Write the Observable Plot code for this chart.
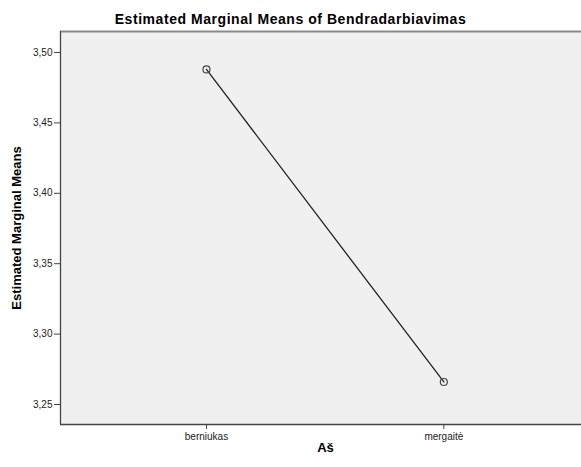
<!DOCTYPE html>
<html><head><meta charset="utf-8">
<script src="https://cdn.jsdelivr.net/npm/d3@7"></script>
<script src="https://cdn.jsdelivr.net/npm/@observablehq/plot@0.6"></script>
<style>
body{margin:0;background:#fff;font-family:"Liberation Sans",Arial,sans-serif;}
#title{width:581px;height:26px;box-sizing:border-box;padding-top:12px;line-height:14px;font-size:14px;font-weight:bold;text-align:center;letter-spacing:0.55px;color:#000;white-space:nowrap;}
#chart svg{display:block;}
</style></head><body>
<div id="title">Estimated Marginal Means of Bendradarbiavimas</div>
<div id="chart"></div>
<script>
const categories = ["berniukas", "mergaitė"];
const means = [3.488, 3.266];
const yTicks = [3.25, 3.30, 3.35, 3.40, 3.45, 3.50];
const xLabel = "Aš";
const yLabel = "Estimated Marginal Means";

const data = categories.map((c, i) => ({i, c, m: means[i]}));
const yDomain = [3.2358, 3.5149];
const xDomain = [-0.615, 1.58];

const plot = Plot.plot({
  width: 581, height: 441,
  marginTop: 5, marginBottom: 43, marginLeft: 60, marginRight: 0,
  style: {fontFamily: "Liberation Sans, Arial, sans-serif", fontSize: "10px", color: "#222", background: "#fff"},
  x: {type: "linear", domain: xDomain},
  y: {domain: yDomain},
  marks: [
    Plot.frame({fill: "#f0f0f0", stroke: null}),
    Plot.ruleY([yDomain[1]], {stroke: "#8a8a8a", strokeWidth: 2}),
    Plot.ruleY([yDomain[0]], {stroke: "#444", strokeWidth: 1.3}),
    Plot.ruleX([xDomain[0]], {stroke: "#444", strokeWidth: 1.3}),
    Plot.axisY(yTicks, {tickSize: 6, tickPadding: 2, tickFormat: d => d.toFixed(2).replace(".", ","), label: null, stroke: "#444"}),
    Plot.axisX([0, 1], {tickSize: 5, tickPadding: 3, tickFormat: i => categories[i], label: null, stroke: "#444"}),
    Plot.line(data, {x: "i", y: "m", stroke: "#222", strokeWidth: 1.3}),
    Plot.dot(data, {x: "i", y: "m", r: 3.5, stroke: "#444", fill: "none", strokeWidth: 1.2}),
    Plot.text([yLabel], {text: d => d, frameAnchor: "left", textAnchor: "middle", rotate: -90, dx: -43.5, fontSize: 13, fontWeight: "bold", fill: "#000", letterSpacing: 0.6}),
    Plot.text([xLabel], {text: d => d, frameAnchor: "bottom", dx: 4.5, dy: 27.5, fontSize: 13, fontWeight: "bold", fill: "#000"})
  ]
});
document.getElementById("chart").appendChild(plot);
</script>
</body></html>
